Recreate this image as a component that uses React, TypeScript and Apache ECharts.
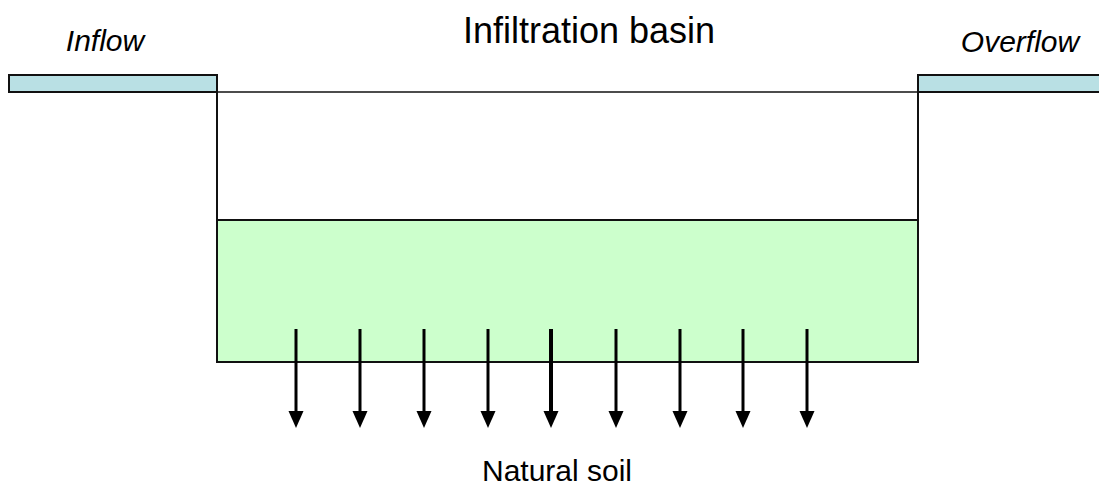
import React, { useEffect, useRef } from "react";
import * as echarts from "echarts";

// Diagram geometry (canvas units, y grows downward)
const pipeLeft = [9, 217, 75, 92]; // x0, x1, y0, y1
const pipeRight = [918, 1112, 75, 92];
const basinWalls = [217, 918]; // left x, right x
const basinLevels = [75, 92, 220, 362]; // wall top, rim line, water surface, bottom
const arrowX = [296, 360, 424, 488, 551, 616, 680, 743, 807];
const arrowSpan = [329, 428]; // top, tip
const arrowWidths = [3, 3, 3, 3, 4, 3, 3, 3, 3];

const labels = [
  { text: "Infiltration basin", x: 589, y: 48, size: 36, italic: false },
  { text: "Inflow", x: 105, y: 55, size: 30, italic: true },
  { text: "Overflow", x: 1020, y: 56, size: 30, italic: true },
  { text: "Natural soil", x: 557, y: 485, size: 30, italic: false },
];

export default function App() {
  const ref = useRef<HTMLDivElement>(null);
  useEffect(() => {
    if (!ref.current) return;
    const chart = echarts.init(ref.current, undefined, { renderer: "svg" });
    const [wl, wr] = basinWalls;
    const [wTop, rim, water, bottom] = basinLevels;

    const option: any = {
      animation: false,
      backgroundColor: "#ffffff",
      grid: { left: 0, right: 0, top: 0, bottom: 0 },
      xAxis: { type: "value", min: 0, max: 1099, show: false },
      yAxis: { type: "value", min: 0, max: 485, inverse: true, show: false },
      series: [
        {
          type: "custom",
          clip: false,
          data: [[wl, wr, water, bottom]],
          renderItem: (params: any, api: any) => {
            const p0 = api.coord([api.value(0), api.value(2)]);
            const p1 = api.coord([api.value(1), api.value(3)]);
            return {
              type: "rect",
              shape: { x: p0[0], y: p0[1], width: p1[0] - p0[0], height: p1[1] - p0[1] },
              style: { fill: "#CCFFCC", stroke: "#111", lineWidth: 2 },
            };
          },
        },
        {
          type: "custom",
          clip: false,
          data: [[wl, wr, wTop, rim, bottom]],
          renderItem: (params: any, api: any) => {
            const a = api.coord([api.value(0), api.value(2)]);
            const b = api.coord([api.value(0), api.value(4)]);
            const c = api.coord([api.value(1), api.value(4)]);
            const d = api.coord([api.value(1), api.value(2)]);
            const r0 = api.coord([api.value(0), api.value(3)]);
            const r1 = api.coord([api.value(1), api.value(3)]);
            return {
              type: "group",
              children: [
                {
                  type: "polyline",
                  shape: { points: [a, b, c, d] },
                  style: { stroke: "#111", lineWidth: 2, fill: null },
                },
                {
                  type: "line",
                  shape: { x1: r0[0], y1: r0[1], x2: r1[0], y2: r1[1] },
                  style: { stroke: "#111", lineWidth: 1.6 },
                },
              ],
            };
          },
        },
        {
          type: "custom",
          clip: false,
          data: [pipeLeft, pipeRight],
          renderItem: (params: any, api: any) => {
            const p0 = api.coord([api.value(0), api.value(2)]);
            const p1 = api.coord([api.value(1), api.value(3)]);
            return {
              type: "rect",
              shape: { x: p0[0], y: p0[1], width: p1[0] - p0[0], height: p1[1] - p0[1] },
              style: { fill: "#B9E0E4", stroke: "#111", lineWidth: 2 },
            };
          },
        },
        {
          type: "custom",
          clip: false,
          data: arrowX.map((x, i) => [x, arrowSpan[0], arrowSpan[1], arrowWidths[i]]),
          renderItem: (params: any, api: any) => {
            const top = api.coord([api.value(0), api.value(1)]);
            const tip = api.coord([api.value(0), api.value(2)]);
            const lw = api.value(3);
            const headLen = 17;
            const headHalf = 7.5;
            return {
              type: "group",
              children: [
                {
                  type: "line",
                  shape: { x1: top[0], y1: top[1], x2: tip[0], y2: tip[1] - headLen + 1 },
                  style: { stroke: "#000", lineWidth: lw },
                },
                {
                  type: "polygon",
                  shape: {
                    points: [
                      [tip[0] - headHalf, tip[1] - headLen],
                      [tip[0] + headHalf, tip[1] - headLen],
                      [tip[0], tip[1]],
                    ],
                  },
                  style: { fill: "#000" },
                },
              ],
            };
          },
        },
        {
          type: "custom",
          clip: false,
          data: labels.map((l) => [l.x, l.y]),
          renderItem: (params: any, api: any) => {
            const l = labels[params.dataIndex];
            const p = api.coord([api.value(0), api.value(1)]);
            return {
              type: "text",
              x: p[0],
              y: p[1],
              style: {
                text: l.text,
                fill: "#000",
                font: `${l.italic ? "italic " : ""}${l.size}px "Liberation Sans", Arial, sans-serif`,
                align: "center",
                verticalAlign: "bottom",
              },
            };
          },
        },
      ],
    };
    chart.setOption(option);
    return () => chart.dispose();
  }, []);
  return (
    <div
      ref={ref}
      style={{ position: "fixed", left: 0, top: 0, width: 1099, height: 485 }}
    />
  );
}
